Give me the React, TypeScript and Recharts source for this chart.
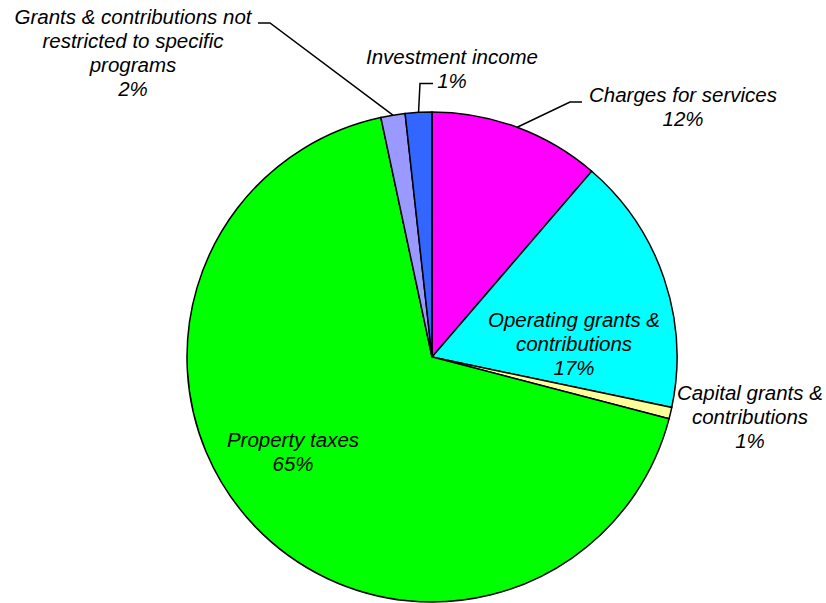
import { Pie, PieChart, Cell } from "recharts";

const categories = [
  "Charges for services",
  "Operating grants & contributions",
  "Capital grants & contributions",
  "Property taxes",
  "Grants & contributions not restricted to specific programs",
  "Investment income",
];

// share of each slice
const values = [11.3, 17.0, 0.75, 67.6, 1.6, 1.75];

// the printed percent labels
const percentLabels = ["12%", "17%", "1%", "65%", "2%", "1%"];

// how each name wraps in the picture
const labelLines = [
  ["Charges for services"],
  ["Operating grants &", "contributions"],
  ["Capital grants &", "contributions"],
  ["Property taxes"],
  ["Grants & contributions not", "restricted to specific", "programs"],
  ["Investment income"],
];

const colors = ["#FF00FF", "#00FFFF", "#FFFF99", "#00FF00", "#9999FF", "#3366FF"];

// label placement relative to the pie centre: text anchor + optional leader elbow
const labelLayout: { dx: number; dy: number; leader?: [number, number][] }[] = [
  { dx: 251, dy: -255, leader: [[138, -255], [150, -255]] },
  { dx: 142, dy: -30 },
  { dx: 318, dy: 43 },
  { dx: -139, dy: 90 },
  { dx: -299, dy: -333, leader: [[-162, -334], [-174, -334]] },
  { dx: 20, dy: -293.5, leader: [[-12, -273.5], [1, -273.5]] },
];

const chartData = categories.map((name, i) => ({
  name,
  value: values[i],
  pct: percentLabels[i],
  lines: labelLines[i],
}));

const RADIAN = Math.PI / 180;
const LINE_H = 24;

const renderLabel = (props: any) => {
  const { cx, cy, midAngle, outerRadius, index } = props;
  const layout = labelLayout[index];
  const row = chartData[index];
  const lines = [...row.lines, row.pct];
  const x = cx + layout.dx;
  const y = cy + layout.dy;
  let leader = null;
  if (layout.leader) {
    const sx = cx + outerRadius * Math.cos(-midAngle * RADIAN);
    const sy = cy + outerRadius * Math.sin(-midAngle * RADIAN);
    const pts = [[sx, sy], ...layout.leader.map(([a, b]) => [cx + a, cy + b])]
      .map((p) => p.join(","))
      .join(" ");
    leader = <polyline points={pts} fill="none" stroke="#000" strokeWidth={1.5} />;
  }
  return (
    <g key={`label-${index}`}>
      {leader}
      <text
        x={x}
        y={y}
        textAnchor="middle"
        fontFamily="'Liberation Sans', Arial, sans-serif"
        fontStyle="italic"
        fontSize={20.5}
        fill="#000"
      >
        {lines.map((l, i) => (
          <tspan key={i} x={x} dy={i === 0 ? 0 : LINE_H}>
            {l}
          </tspan>
        ))}
      </text>
    </g>
  );
};

export default function App() {
  return (
    <div style={{ position: "absolute", left: 0, top: 0, background: "#fff" }}>
      <PieChart width={826} height={603} margin={{ top: 0, right: 0, bottom: 0, left: 0 }}>
        <Pie
          data={chartData}
          dataKey="value"
          nameKey="name"
          cx={432}
          cy={357}
          outerRadius={245}
          startAngle={90}
          endAngle={-270}
          stroke="#000"
          strokeWidth={1.5}
          label={renderLabel}
          labelLine={false}
          isAnimationActive={false}
        >
          {chartData.map((d, i) => (
            <Cell key={d.name} fill={colors[i]} />
          ))}
        </Pie>
      </PieChart>
    </div>
  );
}
